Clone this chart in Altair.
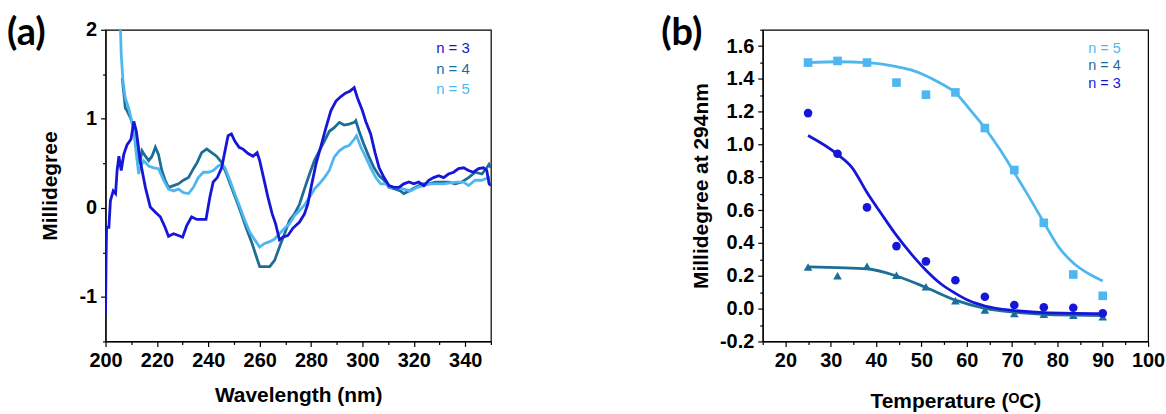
import altair as alt
import pandas as pd

# ---------------- Panel (a): CD spectra ----------------
wl3 = [200, 200.2, 200.4, 201.3, 201.9, 203, 203.9, 204.5, 205.2, 206.1, 207.1, 208.4, 209.9, 211, 212,
       213.5, 215.5, 217.4, 219.4, 221.3, 223.2, 224.5, 226.5, 228.4, 230, 231.6, 233.5, 235.5, 237.4,
       239.1, 240.6, 241.9, 243.5, 245.2, 246.5, 247.7, 249, 250.3, 252, 253.5, 255.5, 257.4, 259, 260,
       261.5, 263.2, 264.9, 266.2, 267.7, 269, 271, 272.9, 275.5, 277.4, 278.7, 280, 281.9, 283.9, 285.8,
       287.7, 289.7, 291.6, 293.5, 295.1, 296.8, 298, 300, 301.3, 303.2, 304.9, 306.5, 308.4, 310.3,
       312.3, 314.2, 316.1, 318.1, 320, 321.9, 323.9, 325.8, 327.7, 329.7, 331.6, 333.5, 335.5, 337.4,
       339.4, 341.3, 343.2, 345.2, 347.1, 348.4, 349.3, 350]
md3 = [-1.2, -0.6, -0.22, -0.22, 0.08, 0.19, 0.16, 0.42, 0.58, 0.42, 0.60, 0.71, 0.77, 0.97, 0.86,
       0.53, 0.23, 0.01, -0.05, -0.10, -0.22, -0.32, -0.29, -0.31, -0.33, -0.20, -0.10, -0.13, -0.13,
       -0.13, 0.12, 0.29, 0.34, 0.45, 0.64, 0.81, 0.83, 0.75, 0.68, 0.66, 0.61, 0.58, 0.62, 0.53,
       0.34, 0.12, -0.07, -0.18, -0.36, -0.33, -0.31, -0.23, -0.16, -0.07, 0.04, 0.23, 0.49, 0.70, 0.90,
       1.09, 1.20, 1.25, 1.29, 1.31, 1.35, 1.24, 1.09, 0.97, 0.83, 0.62, 0.45, 0.34, 0.25,
       0.23, 0.23, 0.27, 0.29, 0.27, 0.29, 0.25, 0.31, 0.34, 0.36, 0.34, 0.38, 0.40, 0.44,
       0.45, 0.42, 0.40, 0.44, 0.45, 0.42, 0.27, 0.25]

wl4 = [206.5, 207.7, 208.4, 209.7, 211, 212.3, 213.3, 214.2, 215.5, 216.8, 218.1, 219.4, 220.6, 221.9,
       223.2, 224.5, 226.5, 228.4, 230.3, 232.3, 234.2, 235.7, 237.4, 239.4, 241.3, 243.2, 245.2, 247.1,
       249, 251, 252.9, 254.8, 256.8, 258.5, 260, 261.9, 263.9, 265.8, 267.7, 269.7, 271.6, 273.5,
       275.5, 277.4, 279.4, 281.3, 283.2, 285.2, 287.1, 289, 291, 292.9, 294.8, 296.8, 297.4, 298.7,
       300.6, 302.6, 304.5, 306.5, 308.4, 310.3, 312.9, 314.8, 316.1, 318.1, 320.6, 323.2, 325.8, 328.4,
       331, 333.5, 336.1, 338.7, 341.3, 343.9, 346.5, 348.4, 349.3, 350]
md4 = [1.46, 1.12, 1.09, 1.01, 0.90, 0.68, 0.49, 0.64, 0.58, 0.53, 0.58, 0.68, 0.60, 0.42,
       0.31, 0.23, 0.25, 0.27, 0.31, 0.34, 0.44, 0.51, 0.62, 0.66, 0.62, 0.58, 0.51, 0.38,
       0.23, 0.08, -0.07, -0.23, -0.38, -0.53, -0.66, -0.66, -0.66, -0.59, -0.44, -0.29, -0.14, -0.07,
       0.04, 0.21, 0.38, 0.53, 0.64, 0.75, 0.86, 0.90, 0.96, 0.93, 0.94, 0.96, 0.98, 0.86,
       0.71, 0.57, 0.45, 0.36, 0.31, 0.23, 0.21, 0.19, 0.16, 0.19, 0.23, 0.27, 0.27, 0.29,
       0.29, 0.29, 0.27, 0.29, 0.34, 0.40, 0.38, 0.45, 0.49, 0.45]

wl5 = [205.6, 206.1, 206.8, 207.7, 209, 209.9, 211, 212, 212.9, 213.5, 214.8, 216.8, 218.7, 220.6,
       222.6, 224.5, 226.5, 228.4, 230.3, 232.3, 234.2, 236.1, 238.1, 240, 241.9, 243.9, 245.2, 246.5,
       248.4, 250.3, 252.3, 254.2, 256.1, 258.1, 260, 261.9, 263.9, 265.8, 267.7, 269.7, 271.6, 273.5,
       275.5, 277.4, 279.4, 281.3, 283.2, 285.2, 287.1, 289, 291, 292.9, 294.8, 296.8, 297.7, 299.4,
       301.3, 303.2, 305.2, 307.1, 309, 311, 313.5, 316.1, 318.7, 321.3, 323.9, 326.5, 329, 331.6,
       334.2, 336.8, 339.4, 341.3, 343.9, 346.5, 349, 350]
md5 = [2.2, 1.72, 1.42, 1.23, 1.12, 1.01, 0.86, 0.60, 0.38, 0.45, 0.53, 0.47, 0.45, 0.44,
       0.31, 0.21, 0.19, 0.21, 0.17, 0.16, 0.23, 0.34, 0.40, 0.40, 0.42, 0.47, 0.49, 0.45,
       0.31, 0.16, 0.01, -0.14, -0.27, -0.36, -0.44, -0.40, -0.38, -0.35, -0.29, -0.23, -0.18, -0.09,
       -0.03, 0.03, 0.12, 0.21, 0.27, 0.34, 0.42, 0.57, 0.64, 0.68, 0.70, 0.77, 0.81, 0.68,
       0.57, 0.45, 0.34, 0.27, 0.27, 0.23, 0.23, 0.21, 0.19, 0.23, 0.25, 0.27, 0.27, 0.27,
       0.28, 0.29, 0.29, 0.25, 0.31, 0.31, 0.34, 0.34]

# ---------------- Panel (b): melting ----------------
temps = [25, 31.5, 38, 44.5, 51, 57.5, 64, 70.5, 77, 83.5, 90]
pts5 = [1.50, 1.51, 1.50, 1.378, 1.304, 1.318, 1.101, 0.845, 0.523, 0.208, 0.078]
pts3 = [1.192, 0.944, 0.617, 0.381, 0.288, 0.173, 0.072, 0.022, 0.008, 0.005, -0.028]
pts4 = [0.254, 0.20, 0.258, 0.204, 0.133, 0.048, -0.008, -0.03, -0.035, -0.04, -0.049]

fitT5 = [25, 31.5, 38, 44.5, 47.7, 51, 54.2, 57.5, 60.7, 64, 67.3, 70.5, 73.8, 77, 80.3, 83.5, 86.8, 90]
fit5 = [1.50, 1.505, 1.50, 1.475, 1.455, 1.42, 1.374, 1.316, 1.213, 1.101, 0.971, 0.829, 0.678, 0.526,
        0.375, 0.278, 0.214, 0.169]
fitT3 = [25, 31.5, 34.7, 38, 41.2, 44.5, 47.7, 51, 54.2, 57.5, 60.7, 64, 70.5, 77, 90]
fit3 = [1.055, 0.94, 0.86, 0.708, 0.577, 0.446, 0.335, 0.234, 0.153, 0.093, 0.046, 0.016, -0.012, -0.024, -0.03]
fitT4 = [25, 31.5, 38, 44.5, 51, 57.5, 64, 70.5, 77, 83.5, 90]
fit4 = [0.254, 0.25, 0.243, 0.199, 0.129, 0.052, 0.002, -0.022, -0.035, -0.04, -0.042]

labels = ["n = 3", "n = 4", "n = 5"]
colors = ["#1616D8", "#1D6E97", "#4FB7EF"]
panel_labels = ["(a)", "(b)"]

FONT = "Arial, 'Liberation Sans', sans-serif"
W, H = 387, 313


def fix_minus(expr):
    return "replace(" + expr + ", '\u2212', '-')"


# ---------- panel (a) ----------
xa = alt.X("x:Q", scale=alt.Scale(domain=[200, 350], nice=False, zero=False),
           axis=alt.Axis(values=list(range(200, 351, 10)), labelFlush=False, labelOverlap=False,
                         labelExpr="(datum.value % 20 == 0 && datum.value < 350) ? datum.label : ''",
                         tickSize={"condition": {"test": "datum.value % 20 == 0", "value": 5}, "value": 3},
                         title="Wavelength (nm)", titleY=60, titleBaseline="alphabetic"))
ya = alt.Y("y:Q", scale=alt.Scale(domain=[-1.5, 2], nice=False, zero=False),
           axis=alt.Axis(values=[-1.5, -1, -0.5, 0, 0.5, 1, 1.5, 2], labelFlush=False, labelOverlap=False,
                         labelExpr="abs(datum.value - round(datum.value)) < 0.01 ? "
                                   + fix_minus("format(datum.value, 'd')") + " : ''",
                         tickSize={"condition": {"test": "abs(datum.value - round(datum.value)) < 0.01", "value": 5},
                                   "value": 3},
                         title="Millidegree", titleX=-55, titleY=H / 2, titleAngle=-90,
                         titleAlign="center", titleBaseline="middle"))

def line_a(xs, ys, col):
    df = pd.DataFrame({"x": xs, "y": ys})
    return alt.Chart(df).mark_line(color=col, strokeWidth=2.8, clip=True).encode(x=xa, y=ya)

layers_a = [line_a(wl4, md4, colors[1]), line_a(wl5, md5, colors[2]), line_a(wl3, md3, colors[0])]

def txt(s, x, y, col, size, weight="normal", font=FONT, align="left", baseline="middle"):
    return alt.Chart(pd.DataFrame({"t": [s]})).mark_text(
        align=align, baseline=baseline, font=font, fontSize=size, fontWeight=weight, color=col
    ).encode(x=alt.value(x), y=alt.value(y), text="t:N")

leg_a = [txt(labels[i], 332, [18.7, 39.3, 59.3][i], colors[i], 15) for i in range(3)]
lab_a = txt(panel_labels[0], -99, 15, "black", 38, "bold", "Lato", baseline="alphabetic")

chart_a = alt.layer(*layers_a, *leg_a, lab_a).properties(width=W, height=H)

# ---------- panel (b) ----------
xb = alt.X("x:Q", scale=alt.Scale(domain=[15, 100], nice=False, zero=False),
           axis=alt.Axis(values=list(range(15, 101, 5)), labelFlush=False, labelOverlap=False,
                         labelExpr="datum.value % 10 == 0 ? datum.label : ''",
                         tickSize={"condition": {"test": "datum.value % 10 == 0", "value": 5}, "value": 3},
                         title="Temperature (\u1d3cC)", titleY=66, titleBaseline="alphabetic"))
yb_vals = [round(-0.2 + 0.1 * i, 1) for i in range(20)]
even_test = "abs(round(datum.value * 10)) % 2 == 0"
yb = alt.Y("y:Q", scale=alt.Scale(domain=[-0.2, 1.7], nice=False, zero=False),
           axis=alt.Axis(values=yb_vals, labelFlush=False, labelOverlap=False,
                         labelExpr=even_test + " ? " + fix_minus("format(datum.value, '.1f')") + " : ''",
                         tickSize={"condition": {"test": even_test, "value": 5}, "value": 3},
                         title="Millidegree at 294nm", titleX=-61, titleY=H / 2, titleAngle=-90,
                         titleAlign="center", titleBaseline="middle"))

def fit_b(xs, ys, col):
    df = pd.DataFrame({"x": xs, "y": ys})
    return alt.Chart(df).mark_line(color=col, strokeWidth=2.8, interpolate="monotone").encode(x=xb, y=yb)

def pts_b(xs, ys, col, shape, size):
    df = pd.DataFrame({"x": xs, "y": ys})
    return alt.Chart(df).mark_point(color=col, filled=True, opacity=1, shape=shape, size=size).encode(x=xb, y=yb)

layers_b = [
    fit_b(fitT5, fit5, colors[2]), pts_b(temps, pts5, colors[2], "square", 75),
    fit_b(fitT4, fit4, colors[1]), pts_b(temps, pts4, colors[1], "triangle-up", 75),
    fit_b(fitT3, fit3, colors[0]), pts_b(temps, pts3, colors[0], "circle", 75),
]
leg_b = [txt(labels[2 - i], 327, [19, 36.4, 54.7][i], colors[2 - i], 14.5) for i in range(3)]
lab_b = txt(panel_labels[1], -102, 15, "black", 38, "bold", "Lato", baseline="alphabetic")

chart_b = alt.layer(*layers_b, *leg_b, lab_b).properties(width=W, height=H)

chart = alt.hconcat(chart_a, chart_b, spacing=168).properties(
    padding={"left": 6, "top": 13, "right": 0, "bottom": 0}
).configure(background="white").configure_view(
    stroke="black", strokeWidth=1.2
).configure_axis(
    grid=False, domainColor="black", domainWidth=1.2, tickColor="black", tickWidth=1.2,
    labelFont=FONT, labelFontWeight="bold", labelFontSize=20, labelColor="black", labelPadding=4,
    titleFont=FONT, titleFontWeight="bold", titleFontSize=21, titleColor="black",
)

chart.save("out.html", embed_options={"renderer": "svg", "actions": False})
